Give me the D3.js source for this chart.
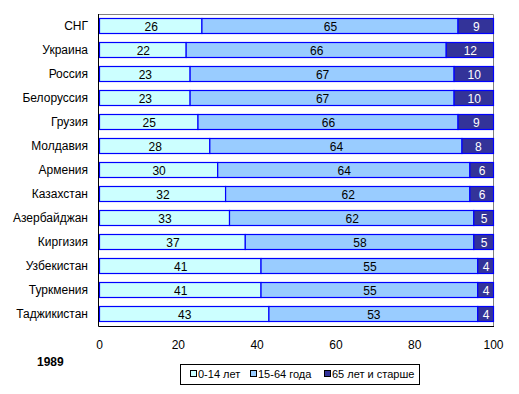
<!DOCTYPE html>
<html>
<head>
<meta charset="utf-8">
<script src="https://cdn.jsdelivr.net/npm/d3@7"></script>
<style>
body { margin: 0; background: #fff; }
text { font-family: Arial, "Liberation Sans", sans-serif; }
</style>
</head>
<body>
<div id="chart"></div>
<script>
var svgWidth = 519;
var svgHeight = 394;

// data
var countries = ["СНГ", "Украина", "Россия", "Белоруссия", "Грузия", "Молдавия", "Армения",
    "Казахстан", "Азербайджан", "Киргизия", "Узбекистан", "Туркмения", "Таджикистан"];
var young = [26, 22, 23, 23, 25, 28, 30, 32, 33, 37, 41, 41, 43];
var working = [65, 66, 67, 67, 66, 64, 64, 62, 62, 58, 55, 55, 53];
var old = [9, 12, 10, 10, 9, 8, 6, 6, 5, 5, 4, 4, 4];
var seriesNames = ["0-14 лет", "15-64 года", "65 лет и старше"];
var xTicks = [0, 20, 40, 60, 80, 100];
var yearLabel = "1989";

var colors = ["#CCFFFF", "#99CCFF", "#333399"];

var plot = { left: 99, right: 493, top: 15, bottom: 326 };

var svg = d3.select("#chart")
    .append("svg")
    .attr("width", svgWidth)
    .attr("height", svgHeight);

var rows = countries.map((c, i) => ({ name: c, v: [young[i], working[i], old[i]] }));

var x = d3.scaleLinear().domain([0, 100]).range([plot.left, plot.right]);
var y = d3.scaleBand().domain(countries).range([14, 326])
    .paddingInner(1 / 3).paddingOuter(1 / 6);

// frame: grey top/right, black left/bottom
svg.append("line").attr("x1", plot.left).attr("x2", plot.right + 0.5)
    .attr("y1", plot.top - 0.5).attr("y2", plot.top - 0.5).attr("stroke", "#808080");
svg.append("line").attr("x1", plot.right + 0.5).attr("x2", plot.right + 0.5)
    .attr("y1", plot.top - 0.5).attr("y2", plot.bottom).attr("stroke", "#808080");

// stacked segments
var segs = [];
rows.forEach(r => {
    var start = 0;
    r.v.forEach((val, k) => {
        segs.push({ name: r.name, k: k, x0: start, x1: start + val, val: val });
        start += val;
    });
});

svg.append("g").selectAll("rect")
    .data(segs)
    .enter()
    .append("rect")
    .attr("x", d => x(d.x0) + 0.5)
    .attr("y", d => y(d.name) + 0.5)
    .attr("width", d => x(d.x1) - x(d.x0))
    .attr("height", y.bandwidth() - 1)
    .attr("fill", d => colors[d.k])
    .attr("stroke", "#0000FF")
    .attr("stroke-width", 1.2);

svg.append("g").selectAll("text")
    .data(segs)
    .enter()
    .append("text")
    .attr("x", d => (x(d.x0) + x(d.x1)) / 2 + 1)
    .attr("y", d => y(d.name) + y.bandwidth() / 2 + 1)
    .attr("dy", "0.35em")
    .attr("text-anchor", "middle")
    .attr("font-size", "12px")
    .attr("fill", d => d.k == 2 ? "#fff" : "#000")
    .text(d => d.val);

svg.append("line").attr("x1", plot.left - 0.5).attr("x2", plot.left - 0.5)
    .attr("y1", plot.top - 1).attr("y2", plot.bottom + 0.5).attr("stroke", "#000");
svg.append("line").attr("x1", plot.left - 0.5).attr("x2", plot.right + 1)
    .attr("y1", plot.bottom + 0.5).attr("y2", plot.bottom + 0.5).attr("stroke", "#000");

// category labels
svg.append("g").selectAll("text")
    .data(countries)
    .enter()
    .append("text")
    .attr("x", 88)
    .attr("y", d => y(d) + y.bandwidth() / 2)
    .attr("dy", "0.35em")
    .attr("text-anchor", "end")
    .attr("font-size", "12px")
    .text(d => d);

// x axis labels
var bottomAxis = d3.axisBottom(x).tickValues(xTicks).tickSize(0).tickPadding(14);
var gx = svg.append("g")
    .attr("transform", `translate(0, ${plot.bottom})`)
    .call(bottomAxis);
gx.select(".domain").remove();
gx.selectAll("text").attr("font-size", "12px").attr("font-family", "Arial, 'Liberation Sans', sans-serif").attr("fill", "#000");

svg.append("text")
    .attr("x", 37).attr("y", 366)
    .attr("font-size", "12px").attr("font-weight", "bold")
    .text(yearLabel);

// legend
var legend = svg.append("g");
legend.append("rect")
    .attr("x", 180.5).attr("y", 364.5).attr("width", 239).attr("height", 20)
    .attr("fill", "#fff").attr("stroke", "#000");
var legX = [190, 250, 324];
seriesNames.forEach((n, i) => {
    legend.append("rect")
        .attr("x", legX[i] + 0.5).attr("y", 370.5).attr("width", 6).attr("height", 6)
        .attr("fill", colors[i]).attr("stroke", "#000");
    legend.append("text")
        .attr("x", legX[i] + 8).attr("y", 378)
        .attr("font-size", "11px")
        .text(n);
});
</script>
</body>
</html>
